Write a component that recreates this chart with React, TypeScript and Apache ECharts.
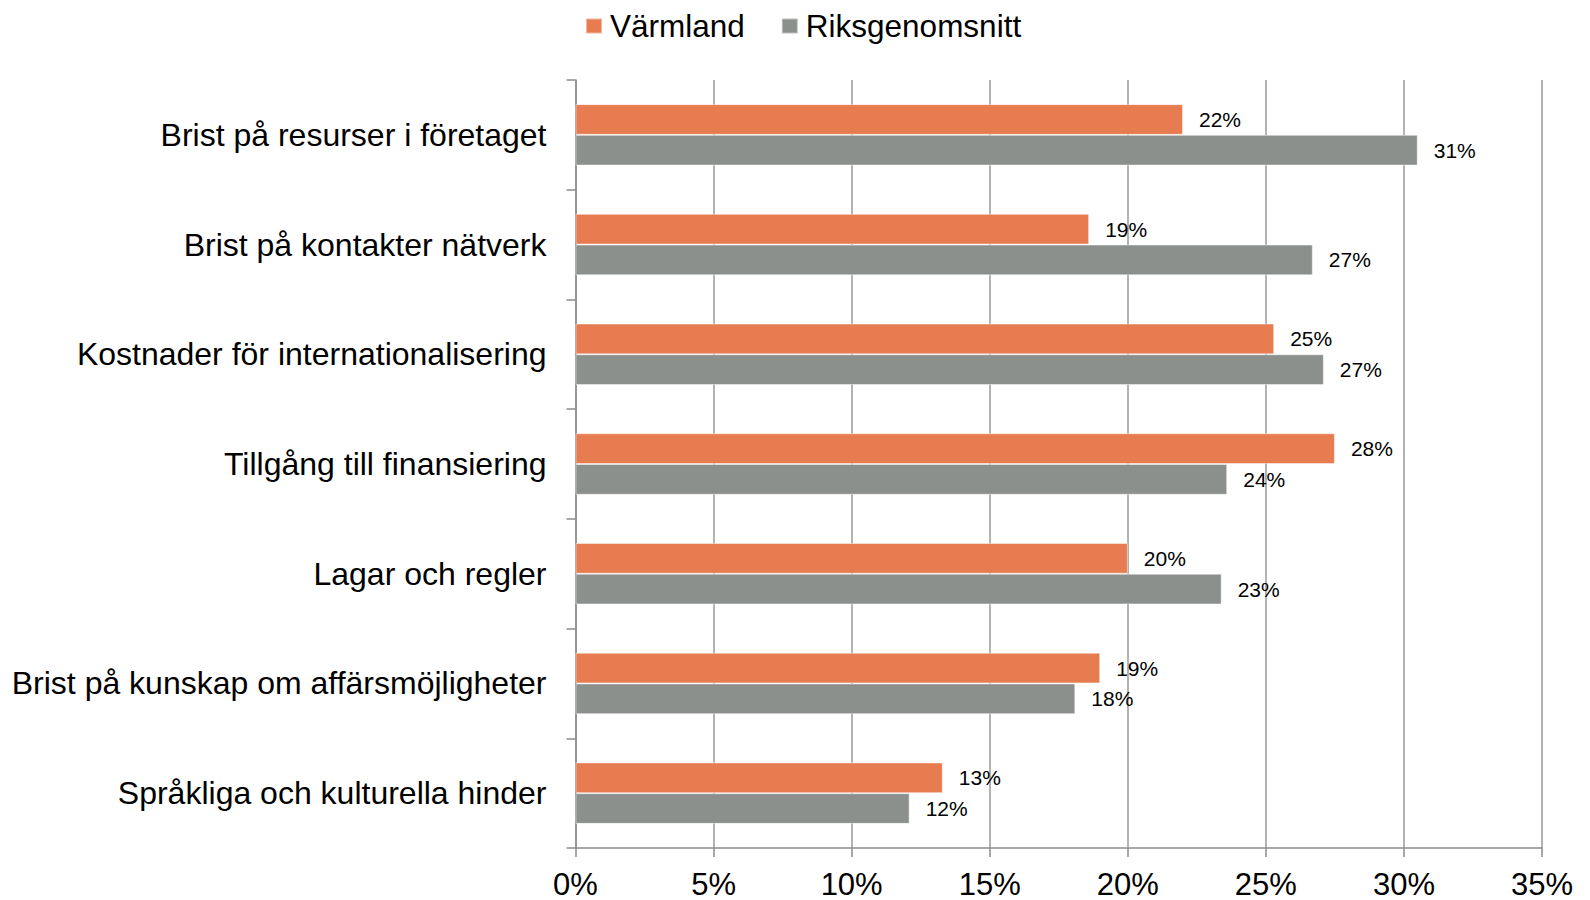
import React, { useEffect, useRef } from "react";
import * as echarts from "echarts";

const categories = [
  "Brist på resurser i företaget",
  "Brist på kontakter nätverk",
  "Kostnader för internationalisering",
  "Tillgång till finansiering",
  "Lagar och regler",
  "Brist på kunskap om affärsmöjligheter",
  "Språkliga och kulturella hinder",
];
const varmland = [22.0, 18.6, 25.3, 27.5, 20.0, 19.0, 13.3];
const riksgenomsnitt = [30.5, 26.7, 27.1, 23.6, 23.4, 18.1, 12.1];
const seriesNames = ["Värmland", "Riksgenomsnitt"];
const FONT = "'Liberation Sans', Arial, sans-serif";

export default function App() {
  const ref = useRef<HTMLDivElement>(null);
  useEffect(() => {
    if (!ref.current) return;
    const chart = echarts.init(ref.current, undefined, { renderer: "svg" });
    const label = {
      show: true,
      position: "right",
      distance: 16,
      color: "#000",
      fontSize: 21,
      fontFamily: FONT,
      formatter: (p: any) => Math.round(p.value) + "%",
    };
    chart.setOption({
      animation: false,
      backgroundColor: "#fff",
      color: ["#E67C50", "#8B908D"],
      legend: {
        top: 5,
        left: 580,
        itemWidth: 16,
        itemHeight: 15,
        itemGap: 36,
        icon: "rect",
        textStyle: {
          fontSize: 31.5,
          fontFamily: FONT,
          color: "#000",
          padding: [0, 0, 0, 3],
        },
        data: seriesNames,
      },
      grid: { left: 575.5, right: 48, top: 80, bottom: 51, containLabel: false },
      xAxis: {
        type: "value",
        min: 0,
        max: 35,
        interval: 5,
        axisLine: { show: true, lineStyle: { color: "#8c8c8c", width: 1.5 } },
        axisTick: { show: true, length: 9, lineStyle: { color: "#8c8c8c", width: 1.5 } },
        splitLine: { show: true, lineStyle: { color: "#9a9a9a", width: 1.5 } },
        axisLabel: {
          fontSize: 31,
          fontFamily: FONT,
          color: "#000",
          margin: 21,
          formatter: (v: number) => v + "%",
        },
      },
      yAxis: {
        type: "category",
        inverse: true,
        data: categories,
        axisLine: { show: true, lineStyle: { color: "#8c8c8c", width: 1.5 } },
        axisTick: { show: true, length: 9, alignWithLabel: false, lineStyle: { color: "#8c8c8c", width: 1.5 } },
        axisLabel: {
          fontSize: 32,
          fontFamily: FONT,
          color: "#000",
          margin: 29,
        },
      },
      series: [
        {
          name: seriesNames[0],
          type: "bar",
          data: varmland,
          barGap: "0%",
          barCategoryGap: "44%",
          itemStyle: { borderColor: "rgba(255,255,255,0.45)", borderWidth: 1 },
          label,
        },
        {
          name: seriesNames[1],
          type: "bar",
          data: riksgenomsnitt,
          barGap: "0%",
          barCategoryGap: "44%",
          itemStyle: { borderColor: "rgba(255,255,255,0.45)", borderWidth: 1 },
          label,
        },
      ],
    });
    return () => chart.dispose();
  }, []);
  return (
    <div
      ref={ref}
      style={{ position: "fixed", left: 0, top: 0, width: 1590, height: 900 }}
    />
  );
}
